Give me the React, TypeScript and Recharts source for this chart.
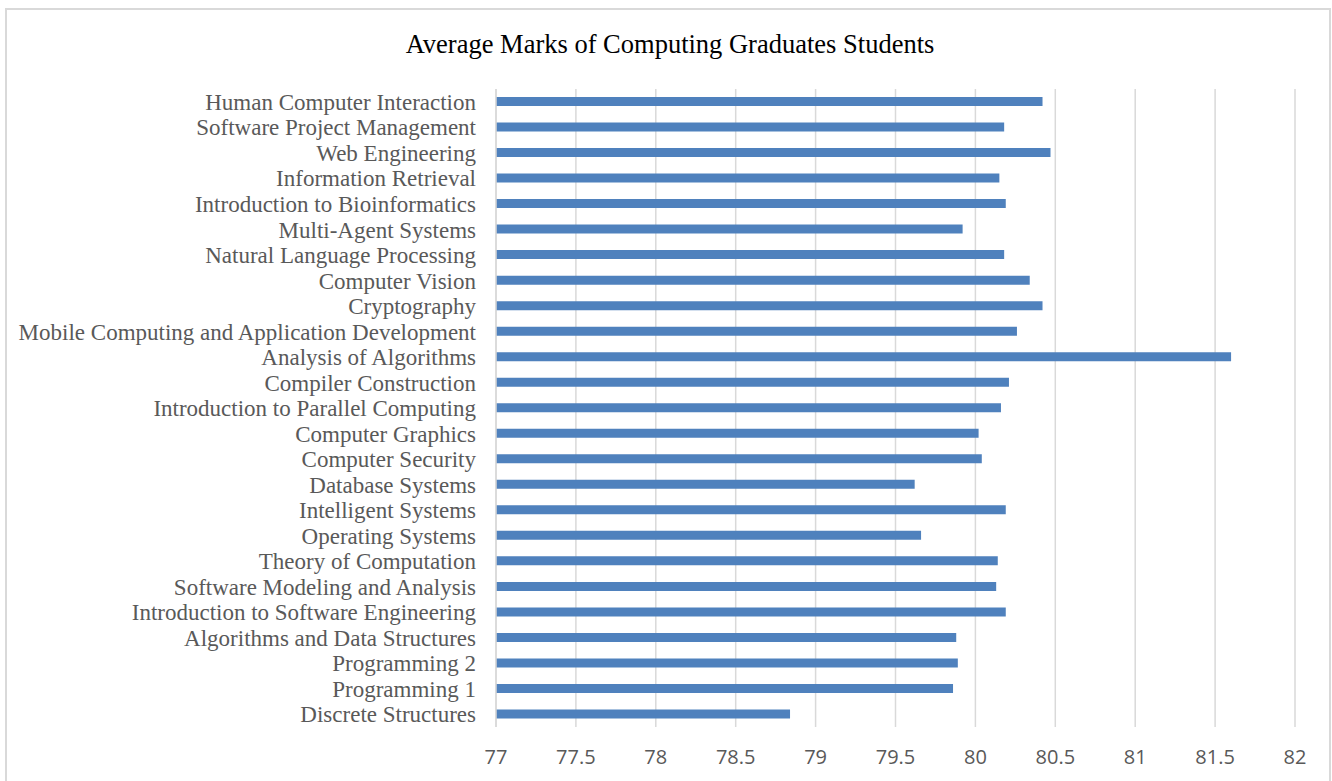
import { BarChart, Bar, XAxis, YAxis, CartesianGrid } from 'recharts';

const courses = [
  "Human Computer Interaction",
  "Software Project Management",
  "Web Engineering",
  "Information Retrieval",
  "Introduction to Bioinformatics",
  "Multi-Agent Systems",
  "Natural Language Processing",
  "Computer Vision",
  "Cryptography",
  "Mobile Computing and Application Development",
  "Analysis of Algorithms",
  "Compiler Construction",
  "Introduction to Parallel Computing",
  "Computer Graphics",
  "Computer Security",
  "Database Systems",
  "Intelligent Systems",
  "Operating Systems",
  "Theory of Computation",
  "Software Modeling and Analysis",
  "Introduction to Software Engineering",
  "Algorithms and Data Structures",
  "Programming 2",
  "Programming 1",
  "Discrete Structures",
];

const avgMarks = [
  80.42, 80.18, 80.47, 80.15, 80.19, 79.92, 80.18, 80.34, 80.42, 80.26,
  81.6, 80.21, 80.16, 80.02, 80.04, 79.62, 80.19, 79.66, 80.14, 80.13,
  80.19, 79.88, 79.89, 79.86, 78.84,
];

const markTicks = [77, 77.5, 78, 78.5, 79, 79.5, 80, 80.5, 81, 81.5, 82];

const rows = courses.map((course, i) => ({ course, mark: avgMarks[i] }));

const serif = "'Liberation Serif', 'Times New Roman', serif";
const sans = "'Open Sans', sans-serif";

export default function App() {
  return (
    <div style={{ position: "absolute", left: 0, top: 0, width: 1332, height: 781, overflow: "hidden", background: "#fff" }}>
      <div style={{ position: "absolute", left: 5, top: 8, width: 1322, height: 800, border: "2px solid #d9d9d9" }} />
      <div style={{ position: "absolute", left: 0, top: 29, width: 1340, textAlign: "center", fontFamily: serif, fontSize: 26.5, color: "#000" }}>
        Average Marks of Computing Graduates Students
      </div>
      <div style={{ position: "absolute", left: 0, top: 0 }}>
        <BarChart width={1332} height={781} data={rows} layout="vertical" margin={{ top: 89, right: 37, bottom: 24, left: 0 }}>
          <CartesianGrid horizontal={false} stroke="#d9d9d9" strokeWidth={1.5} />
          <XAxis
            type="number"
            domain={[77, 82]}
            ticks={markTicks}
            height={30}
            axisLine={false}
            tickLine={false}
            tickSize={0}
            tickMargin={23}
            tick={{ fill: "#595959", fontSize: 20, fontFamily: sans }}
          />
          <YAxis
            type="category"
            dataKey="course"
            width={496}
            axisLine={{ stroke: "#d9d9d9", strokeWidth: 1.5 }}
            tickLine={false}
            tickSize={0}
            tickMargin={20}
            interval={0}
            tick={{ fill: "#595959", fontSize: 23, fontFamily: serif }}
          />
          <Bar dataKey="mark" fill="#4f81bd" barSize={9} isAnimationActive={false} />
        </BarChart>
      </div>
    </div>
  );
}
